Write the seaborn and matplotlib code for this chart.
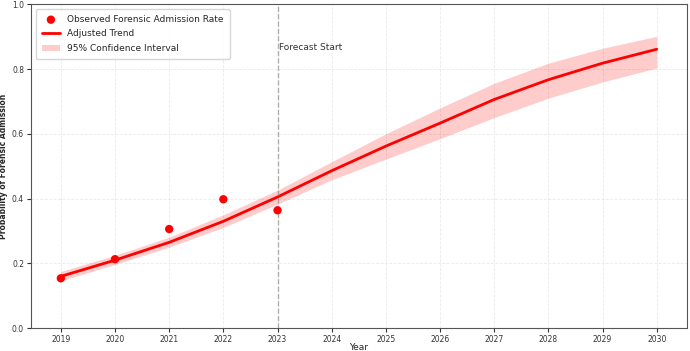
import numpy as np
import pandas as pd
import matplotlib
matplotlib.use("Agg")
import matplotlib.pyplot as plt
import seaborn as sns

obs_years = [2019, 2020, 2021, 2022, 2023]
obs_rate = [0.154, 0.213, 0.306, 0.398, 0.364]

trend_years = [2019, 2020, 2021, 2022, 2023, 2024, 2025, 2026, 2027, 2028, 2029, 2030]
trend = [0.160, 0.210, 0.265, 0.330, 0.405, 0.486, 0.562, 0.633, 0.706, 0.767, 0.818, 0.861]
ci_low = [0.146, 0.197, 0.250, 0.311, 0.383, 0.458, 0.522, 0.585, 0.650, 0.710, 0.760, 0.803]
ci_high = [0.175, 0.225, 0.281, 0.350, 0.426, 0.514, 0.600, 0.680, 0.756, 0.818, 0.864, 0.901]

forecast_start = 2023

sns.set_style("ticks")
plt.rcParams['font.family'] = ['DejaVu Sans']

obs = pd.DataFrame({"Year": obs_years, "Rate": obs_rate})
tr = pd.DataFrame({"Year": trend_years, "Trend": trend, "lo": ci_low, "hi": ci_high})

fig, ax = plt.subplots(figsize=(6.9, 3.51), dpi=100)

sns.scatterplot(data=obs, x="Year", y="Rate", color="red", s=36, edgecolor="none",
                label="Observed Forensic Admission Rate", ax=ax, zorder=3)
sns.lineplot(data=tr, x="Year", y="Trend", color="red", linewidth=2,
             label="Adjusted Trend", ax=ax, zorder=2)
ax.fill_between(tr["Year"], tr["lo"], tr["hi"], color="red", alpha=0.2,
                linewidth=0, label="95% Confidence Interval")

ax.axvline(forecast_start, color="gray", linestyle="--", alpha=0.6, linewidth=1)
ax.text(forecast_start + 0.03, 0.86, "Forecast Start", fontsize=6.5, color="#333333")

ax.set_ylim(0, 1.0)
ax.set_xlim(2018.45, 2030.55)
ax.set_xticks(trend_years)
ax.set_xlabel("Year", fontsize=6.5)
ax.set_ylabel("Probability of Forensic Admission", fontsize=5.5, fontweight="bold")
ax.yaxis.set_label_coords(-0.035, 0.5)
ax.xaxis.set_label_coords(0.5, -0.045)
ax.tick_params(labelsize=5.5, colors="#333333", length=3, pad=2)
ax.grid(True, linestyle="--", alpha=0.4, linewidth=0.6)
for s in ax.spines.values():
    s.set_color("#555555")
    s.set_visible(True)

ax.legend(loc="upper left", fontsize=6.5, frameon=True, labelspacing=0.6, borderpad=0.7)

plt.subplots_adjust(left=0.045, right=0.995, top=0.988, bottom=0.065)
plt.savefig("out.png", dpi=100)
